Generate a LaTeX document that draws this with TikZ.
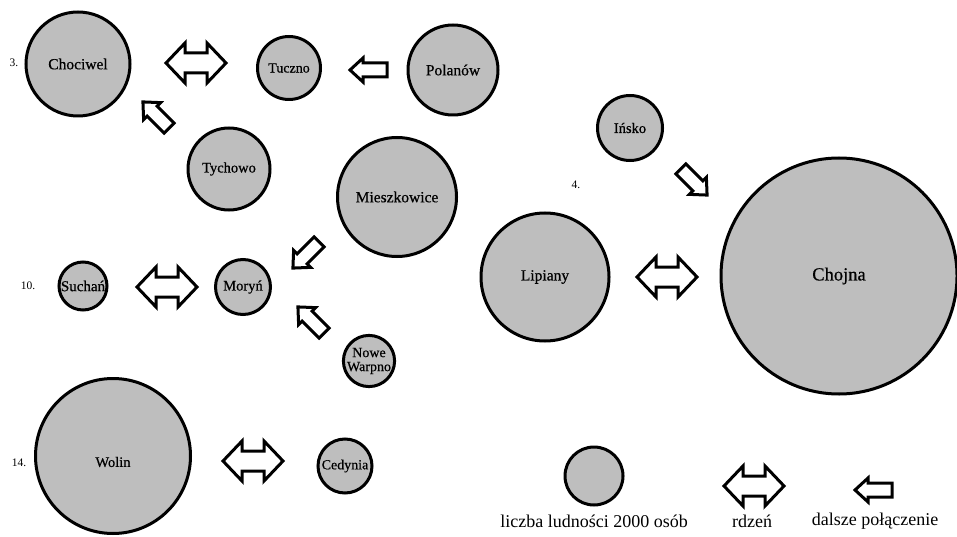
\documentclass[tikz,border=0pt]{standalone}
\usepackage{fontspec}
\setmainfont{Liberation Serif}
\newfontfamily\tnr{Liberation Serif}[FakeBold=0.6]
\definecolor{cgray}{RGB}{190,190,190}
\tikzset{
  town/.style={circle, draw=black, line width=3pt, fill=cgray, inner sep=0pt, align=center, text=black},
  num/.style={inner sep=0pt, font=\fontsize{11.5}{12}\selectfont},
  legtext/.style={inner sep=0pt, font=\fontsize{18}{19}\selectfont},
  arrowline/.style={draw=black, fill=white, line width=3pt, line join=miter},
  dblarrow/.pic={
    \path[arrowline] (-30,0) -- (-11,20) -- (-11,10) -- (11,10) -- (11,20) -- (30,0)
      -- (11,-20) -- (11,-10) -- (-11,-10) -- (-11,-20) -- cycle;
    \coordinate (-c) at (0,0);
  },
  sglarrow/.pic={
    \path[arrowline] (-18.5,0) -- (-5.5,12) -- (-5.5,7) -- (18.5,7) -- (18.5,-7)
      -- (-5.5,-7) -- (-5.5,-12) -- cycle;
    \coordinate (-c) at (0,0);
  }
}
\begin{document}
\begin{tikzpicture}[x=1pt, y=-1pt]
\useasboundingbox[fill=white] (0,0) rectangle (957,537);

% circles
\node[town, minimum size=104pt, font=\tnr\fontsize{15.5}{16}\selectfont] (chociwel) at (78,64) {Chociwel};
\node[town, minimum size=63pt, font=\tnr\fontsize{14}{14}\selectfont] (tuczno) at (289,68) {Tuczno};
\node[town, minimum size=90pt, font=\tnr\fontsize{15.5}{16}\selectfont] (polanow) at (453,70) {Polanów};
\node[town, minimum size=82pt, font=\tnr\fontsize{14.5}{15}\selectfont] (tychowo) at (229,169) {Tychowo};
\node[town, minimum size=119pt, font=\tnr\fontsize{15.5}{16}\selectfont] (mieszkowice) at (397,197) {Mieszkowice};
\node[town, minimum size=65pt, font=\tnr\fontsize{14.5}{15}\selectfont] (insko) at (630,128) {Ińsko};
\node[town, minimum size=128pt, font=\tnr\fontsize{15.5}{16}\selectfont] (lipiany) at (545,277) {Lipiany};
\node[town, minimum size=236pt, font=\tnr\fontsize{18.5}{19}\selectfont] (chojna) at (839,276) {Chojna};
\node[town, minimum size=48pt, font=\tnr\fontsize{15}{15}\selectfont] (suchan) at (83,286) {Suchań};
\node[town, minimum size=55pt, font=\tnr\fontsize{14.5}{15}\selectfont] (moryn) at (243,287) {Moryń};
\node[town, minimum size=50pt, font=\tnr\fontsize{14}{14}\selectfont] (nowe) at (369,361) {Nowe\\Warpno};
\node[town, minimum size=155pt] (wolin) at (113,456) {};
\node[inner sep=0pt, font=\tnr\fontsize{14.5}{15}\selectfont] (wolinlabel) at (113,462) {Wolin};
\node[town, minimum size=54pt, font=\tnr\fontsize{14}{14}\selectfont] (cedynia) at (345,466) {Cedynia};
\node[town, minimum size=58pt] (legcircle) at (594,476) {};

% group numbers
\node[num] (n3) at (14,63) {3.};
\node[num] (n4) at (576,185) {4.};
\node[num] (n10) at (28,286) {10.};
\node[num] (n14) at (19,463) {14.};

% core (double) arrows
\pic (d1) at (196,63) {dblarrow};
\pic (d2) at (167,287) {dblarrow};
\pic (d3) at (667,277) {dblarrow};
\pic (d4) at (253,461) {dblarrow};
\pic (d5) at (754,486) {dblarrow};

% further connections (single arrows)
\pic (s1) at (368.5,70) {sglarrow};
\pic[rotate=-45] (s2) at (156,115) {sglarrow};
\pic[rotate=45] (s3) at (306,255) {sglarrow};
\pic[rotate=-45] (s4) at (311,320) {sglarrow};
\pic[rotate=135] (s5) at (694,182) {sglarrow};
\pic (s6) at (873.5,490) {sglarrow};

% legend texts
\node[legtext] (l1) at (594,521) {liczba ludności 2000 osób};
\node[legtext] (l2) at (752,521) {rdzeń};
\node[legtext] (l3) at (875,521) {dalsze połączenie};
\end{tikzpicture}
\end{document}
